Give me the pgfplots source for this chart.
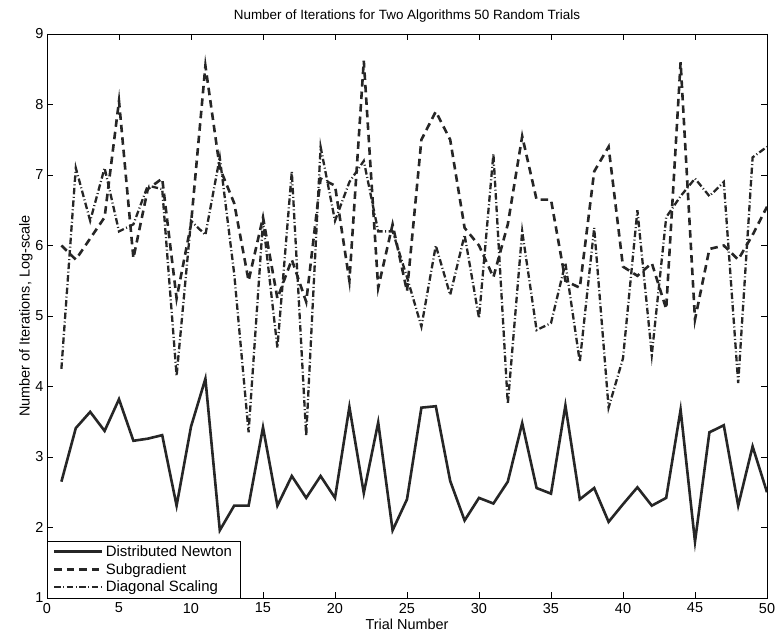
\documentclass[border=0pt]{standalone}
\usepackage{fontspec}
\setmainfont{Liberation Sans}
\usepackage{pgfplots}
\usepackage{pgfplotstable}
\pgfplotsset{compat=1.18}
\pgfplotstableread{
x N S D
1 2.65 6.00 4.25
2 3.41 5.80 7.10
3 3.64 6.10 6.35
4 3.37 6.40 7.10
5 3.82 8.05 6.20
6 3.23 5.82 6.30
7 3.26 6.80 6.85
8 3.31 6.95 6.80
9 2.31 5.25 4.15
10 3.43 6.30 6.35
11 4.11 8.55 6.15
12 1.96 7.10 7.25
13 2.31 6.60 5.60
14 2.31 5.50 3.35
15 3.42 6.40 6.35
16 2.31 5.25 4.55
17 2.73 5.80 7.05
18 2.42 5.20 3.30
19 2.73 6.95 7.40
20 2.42 6.85 6.35
21 3.71 5.50 6.90
22 2.49 8.62 7.20
23 3.49 5.40 6.20
24 1.96 6.30 6.20
25 2.40 5.35 5.55
26 3.70 7.50 4.85
27 3.72 7.90 6.00
28 2.66 7.50 5.30
29 2.10 6.25 6.15
30 2.42 6.00 4.97
31 2.34 5.55 7.30
32 2.65 6.30 3.75
33 3.48 7.55 6.20
34 2.56 6.65 4.80
35 2.48 6.65 4.90
36 3.73 5.50 5.75
37 2.40 5.40 4.35
38 2.56 7.05 6.25
39 2.08 7.40 3.70
40 2.33 5.70 4.40
41 2.57 5.57 6.50
42 2.31 5.75 4.45
43 2.42 5.10 6.40
44 3.67 8.60 6.70
45 1.80 4.95 6.95
46 3.35 5.95 6.70
47 3.45 6.00 6.90
48 2.31 5.80 4.05
49 3.15 6.15 7.25
50 2.50 6.55 7.40
}\data
\begin{document}
\begin{tikzpicture}
\useasboundingbox (-47bp,-44bp) rectangle (730bp,598bp);
\begin{axis}[
  at={(0,0)}, anchor=south west,
  scale only axis, width=720bp, height=564bp,
  xmin=0, xmax=50, ymin=1, ymax=9,
  xtick={0,5,...,50}, ytick={1,2,...,9},
  tick align=inside, major tick length=6bp,
  tick style={black, line width=0.6bp},
  axis line style={black, line width=0.9bp},
  /pgf/number format/assume math mode=true,
  ticklabel style={font=\fontsize{14.5}{16}\selectfont},
  xticklabel style={yshift=-1.5bp},
  title={Number of Iterations for Two Algorithms 50 Random Trials},
  title style={font=\fontsize{13.5}{15}\selectfont, yshift=2bp},
  xlabel={Trial Number},
  ylabel={Number of Iterations, Log-scale},
  label style={font=\fontsize{14.5}{16}\selectfont},
  xlabel style={yshift=1bp},
  ylabel style={yshift=-4bp},
  legend style={at={(0,0)}, anchor=south west, draw=black,
    font=\fontsize{15}{17}\selectfont, inner xsep=6bp, inner ysep=2.5bp, row sep=1.5bp,
    cells={anchor=west}, fill=white},
  legend image code/.code={\draw[#1] (0bp,0bp) -- (48bp,0bp);},
]
\addplot[black!85, line width=2.6bp] table[x=x, y=N] {\data};
\addlegendentry{Distributed Newton}
\addplot[black!85, line width=2.6bp, dash pattern=on 7.5bp off 5bp] table[x=x, y=S] {\data};
\addlegendentry{Subgradient}
\addplot[black!85, line width=2.3bp, dash pattern=on 6.5bp off 2.5bp on 1bp off 2.5bp] table[x=x, y=D] {\data};
\addlegendentry{Diagonal Scaling}
\end{axis}
\end{tikzpicture}
\end{document}
